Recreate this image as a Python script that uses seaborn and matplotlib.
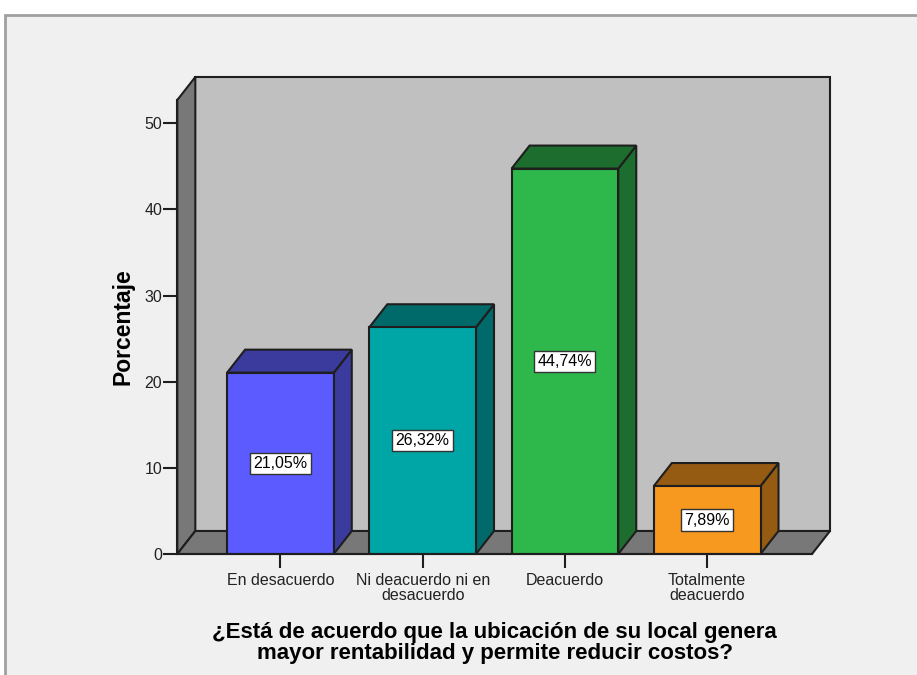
import pandas as pd
import matplotlib.pyplot as plt
import seaborn as sns
from matplotlib.patches import Polygon, Rectangle

# ── Data ─────────────────────────────────────────────
categorias = ['En desacuerdo', 'Ni deacuerdo ni en\ndesacuerdo',
              'Deacuerdo', 'Totalmente\ndeacuerdo']
porcentajes = [21.05, 26.32, 44.74, 7.89]
etiquetas = ['21,05%', '26,32%', '44,74%', '7,89%']

front_colors = ['#5B5BFF', '#00A5A5', '#2EB84C', '#F7981F']
dark_colors = ['#3B3B9E', '#006A6A', '#1D6E2E', '#955B12']

sns.set_style('white')
plt.rcParams['font.family'] = ['Liberation Sans', 'DejaVu Sans']

W, H, DPI = 917, 675, 100
fig = plt.figure(figsize=(W / DPI, H / DPI), dpi=DPI, facecolor='white')

# outer SPSS-like frame
fig.patches.append(Rectangle((5 / W, -0.01), 1.0, (H - 15) / H + 0.01,
                             transform=fig.transFigure, facecolor='#F0F0F0',
                             edgecolor='#A0A0A0', linewidth=2, zorder=-5))

# axes box in pixels: left 177, right 812, bottom 554, top 100
ax_l, ax_r, ax_b, ax_t = 177.3, 812, 554, 100
ax = fig.add_axes([ax_l / W, (H - ax_b) / H, (ax_r - ax_l) / W, (ax_b - ax_t) / H])
ax.set_facecolor('none')

xmin, xmax = -0.725, 3.737
ymin, ymax = 0, 52.7

edge = '#1E1E1E'
lw = 1.5

df = pd.DataFrame({'categoria': categorias, 'porcentaje': porcentajes})
sns.barplot(data=df, x='categoria', y='porcentaje', hue='categoria',
            palette=front_colors, legend=False, width=0.75, saturation=1,
            edgecolor=edge, linewidth=lw, ax=ax, zorder=3)
ax.set_xlim(xmin, xmax)
ax.set_ylim(ymin, ymax)

# 3D depth offset in data units
px_x = (ax_r - ax_l) / (xmax - xmin)
px_y = (ax_b - ax_t) / (ymax - ymin)
dx = 18 / px_x
dy = 23 / px_y

# back wall, left wall, floor
ax.add_patch(Polygon([(xmin + dx, dy), (xmax + dx, dy), (xmax + dx, ymax + dy),
                      (xmin + dx, ymax + dy)], closed=True, facecolor='#C0C0C0',
                     edgecolor=edge, linewidth=lw, clip_on=False, zorder=0.5))
ax.add_patch(Polygon([(xmin, 0), (xmin + dx, dy), (xmin + dx, ymax + dy), (xmin, ymax)],
                     closed=True, facecolor='#787878', edgecolor=edge, linewidth=lw,
                     clip_on=False, zorder=0.6))
ax.add_patch(Polygon([(xmin, 0), (xmax, 0), (xmax + dx, dy), (xmin + dx, dy)],
                     closed=True, facecolor='#787878', edgecolor=edge, linewidth=lw,
                     clip_on=False, zorder=0.6))

# side and top faces of every bar
bars = [p for p in ax.patches if isinstance(p, Rectangle)]
for p, dark, lab in zip(bars, dark_colors, etiquetas):
    x0, w, h = p.get_x(), p.get_width(), p.get_height()
    x1 = x0 + w
    ax.add_patch(Polygon([(x1, 0), (x1 + dx, dy), (x1 + dx, h + dy), (x1, h)],
                         closed=True, facecolor=dark, edgecolor=edge, linewidth=lw,
                         clip_on=False, zorder=2))
    ax.add_patch(Polygon([(x0, h), (x1, h), (x1 + dx, h + dy), (x0 + dx, h + dy)],
                         closed=True, facecolor=dark, edgecolor=edge, linewidth=lw,
                         clip_on=False, zorder=2))
    ax.text(x0 + w / 2, h / 2, lab, ha='center', va='center', fontsize=11.5,
            color='black', zorder=5,
            bbox=dict(boxstyle='square,pad=0.2', facecolor='white',
                      edgecolor='#333333', linewidth=1))

for s in ['top', 'right']:
    ax.spines[s].set_visible(False)
for s in ['left', 'bottom']:
    ax.spines[s].set_color(edge)
    ax.spines[s].set_linewidth(lw)
    ax.spines[s].set_zorder(4)

ax.set_yticks([0, 10, 20, 30, 40, 50])
ax.tick_params(axis='both', length=10, width=1.5, color=edge, labelsize=11.5,
               left=True, bottom=True, labelcolor='#222222')
ax.tick_params(axis='x', pad=4)
ax.tick_params(axis='y', pad=1)
for t in ax.get_xticklabels():
    t.set_linespacing(0.95)

ax.set_xlabel('¿Está de acuerdo que la ubicación de su local genera\n'
              'mayor rentabilidad y permite reducir costos?',
              fontsize=16, fontweight='bold', linespacing=1.0, labelpad=14,
              color='black')
ax.set_ylabel('Porcentaje', fontsize=16.5, fontweight='bold', labelpad=7,
              color='black')

plt.savefig('out.png', dpi=DPI, facecolor=fig.get_facecolor())
